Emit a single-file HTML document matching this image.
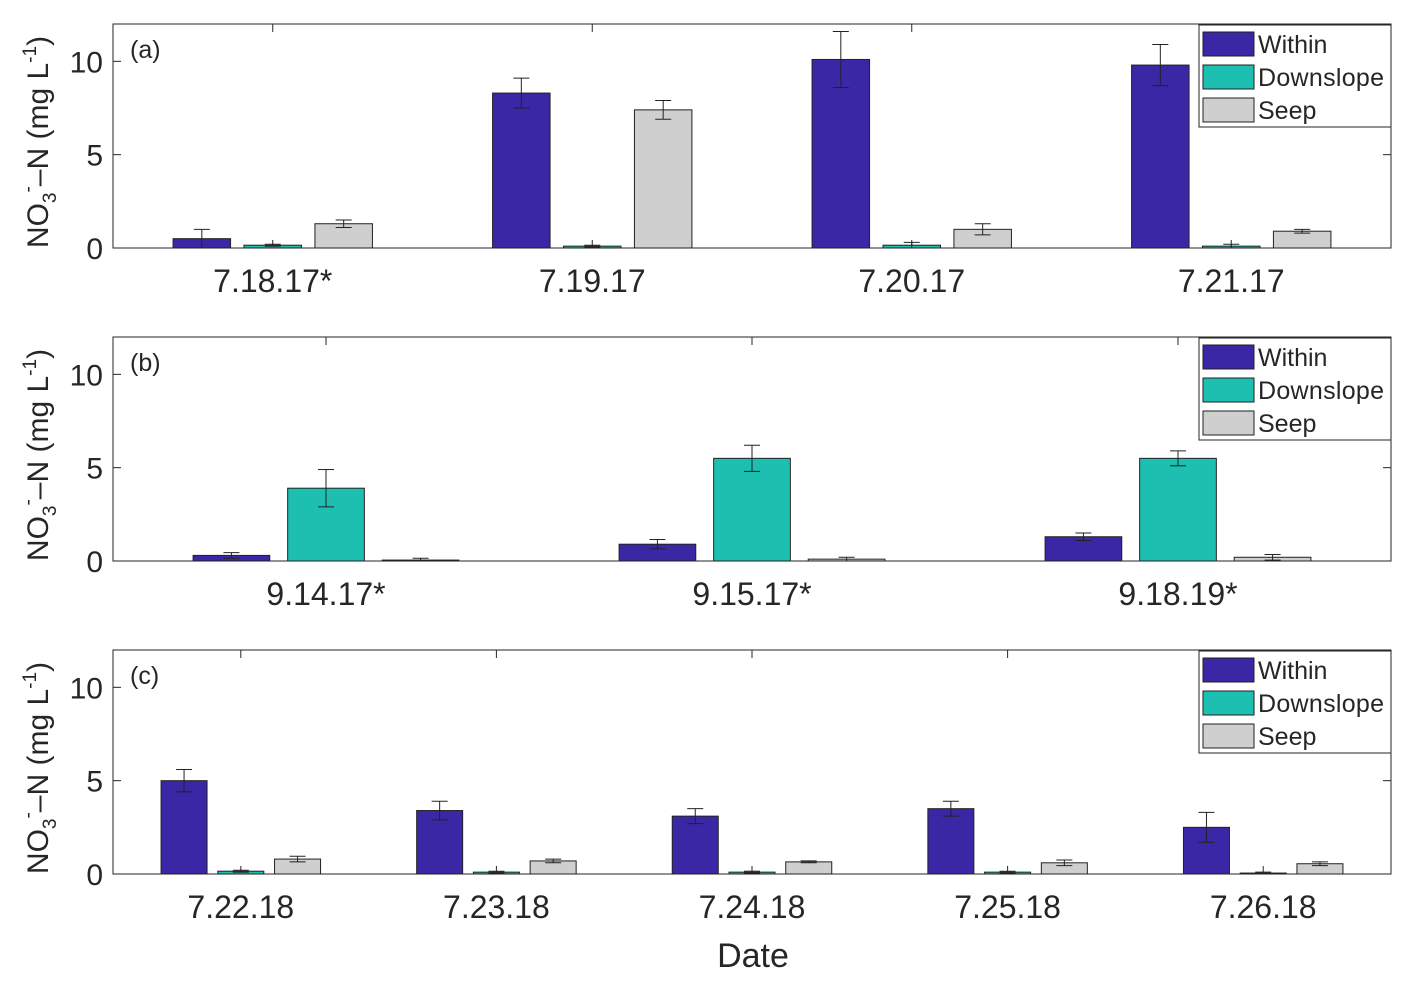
<!DOCTYPE html>
<html><head><meta charset="utf-8"><style>
body{margin:0;background:#fff;}
svg text{font-family:"Liberation Sans",Arial,sans-serif;fill:#262626;}
</style></head><body>
<svg id="chart" width="1408" height="989" xmlns="http://www.w3.org/2000/svg"></svg>
<script>
const catsA=["7.18.17*","7.19.17","7.20.17","7.21.17"];
const withinA=[0.5,8.3,10.1,9.8];
const withinErrA=[0.5,0.8,1.5,1.1];
const downA=[0.15,0.1,0.15,0.1];
const downErrA=[0.05,0.05,0.15,0.1];
const seepA=[1.3,7.4,1.0,0.9];
const seepErrA=[0.2,0.5,0.3,0.1];

const catsB=["9.14.17*","9.15.17*","9.18.19*"];
const withinB=[0.3,0.9,1.3];
const withinErrB=[0.15,0.25,0.2];
const downB=[3.9,5.5,5.5];
const downErrB=[1.0,0.7,0.4];
const seepB=[0.05,0.1,0.2];
const seepErrB=[0.1,0.1,0.15];

const catsC=["7.22.18","7.23.18","7.24.18","7.25.18","7.26.18"];
const withinC=[5.0,3.4,3.1,3.5,2.5];
const withinErrC=[0.6,0.5,0.4,0.4,0.8];
const downC=[0.15,0.1,0.1,0.1,0.05];
const downErrC=[0.05,0.05,0.05,0.05,0.05];
const seepC=[0.8,0.7,0.65,0.6,0.55];
const seepErrC=[0.15,0.1,0.05,0.15,0.1];

const yTicks=[0,5,10];
const seriesNames=["Within","Downslope","Seep"];
const colors=["#3a27a5","#1dbfb0","#cfcfcf"];

const svg=document.getElementById('chart');
const NS="http://www.w3.org/2000/svg";
function mk(tag,attrs,parent){const e=document.createElementNS(NS,tag);for(const k in attrs)e.setAttribute(k,attrs[k]);(parent||svg).appendChild(e);return e;}

function panel(id,top,label,cats,series,errs){
  const g=mk('g',{});
  
  
  const L=113,R=1391,T=top,B=top+224,ymax=12;
  const y=v=>B-(v/ymax)*(B-T);
  const n=cats.length,step=(R-L)/n;
  const xc=i=>L+step*(i+0.5);
  const bw=step*0.18,off=step*0.222;
  mk('rect',{x:L,y:T,width:R-L,height:B-T,fill:'#fff',stroke:'#262626','stroke-width':1},g);
  yTicks.forEach(t=>{
    mk('line',{x1:L,x2:L+8,y1:y(t),y2:y(t),stroke:'#262626'},g);
    mk('line',{x1:R,x2:R-8,y1:y(t),y2:y(t),stroke:'#262626'},g);
    const tx=mk('text',{x:L-10,y:y(t)+11,'font-size':30,'text-anchor':'end'},g);
    tx.textContent=t;
    
    
  });
  cats.forEach((c,i)=>{
    mk('line',{x1:xc(i),x2:xc(i),y1:B,y2:B-8,stroke:'#262626'},g);
    mk('line',{x1:xc(i),x2:xc(i),y1:T,y2:T+8,stroke:'#262626'},g);
    const tx=mk('text',{x:xc(i),y:B+44,'font-size':32,'text-anchor':'middle'},g);
    tx.textContent=c;
    
    
  });
  series.forEach((s,k)=>{
    s.forEach((v,i)=>{
      const cx=xc(i)+(k-1)*off;
      const r=mk('rect',{x:cx-bw/2,y:y(v),width:bw,height:B-y(v),fill:colors[k],stroke:'#222','stroke-width':1},g);
      
      
      const e=errs[k][i];
      const lo=Math.max(0,v-e),hi=v+e;
      mk('line',{x1:cx,x2:cx,y1:y(lo),y2:y(hi),stroke:'#222'},g);
      mk('line',{x1:cx-8,x2:cx+8,y1:y(lo),y2:y(lo),stroke:'#222'},g);
      mk('line',{x1:cx-8,x2:cx+8,y1:y(hi),y2:y(hi),stroke:'#222'},g);
    });
  });
  const pl=mk('text',{x:130,y:T+34,'font-size':25},g);
  pl.textContent=label;
  
  
  const yl=mk('text',{transform:`translate(48,${T+118}) rotate(-90)`,'font-size':30,'text-anchor':'middle'},g);
  yl.innerHTML='NO<tspan font-size="19" dy="8">3</tspan><tspan font-size="19" dy="-22">-</tspan><tspan dy="14">–N (mg L</tspan><tspan font-size="19" dy="-12">-1</tspan><tspan dy="12">)</tspan>';
  
  
  const lg=mk('g',{},g);
  
  
  mk('rect',{x:1199,y:T+1,width:192,height:102,fill:'#fff',stroke:'#262626'},lg);
  seriesNames.forEach((nm,k)=>{
    const yy=T+8+k*33;
    mk('rect',{x:1203,y:yy,width:51,height:24,fill:colors[k],stroke:'#222'},lg);
    const t=mk('text',{x:1258,y:yy+21,'font-size':25,textLength:nm==='Downslope'?126:null},lg);
    if(nm!=='Downslope')t.removeAttribute('textLength');
    t.textContent=nm;
    
    
  });
}
panel('a',24,'(a)',catsA,[withinA,downA,seepA],[withinErrA,downErrA,seepErrA]);
panel('b',337,'(b)',catsB,[withinB,downB,seepB],[withinErrB,downErrB,seepErrB]);
panel('c',650,'(c)',catsC,[withinC,downC,seepC],[withinErrC,downErrC,seepErrC]);
const xt=mk('text',{x:753,y:967,'font-size':34,'text-anchor':'middle'});
xt.textContent='Date';


</script>
</body></html>
